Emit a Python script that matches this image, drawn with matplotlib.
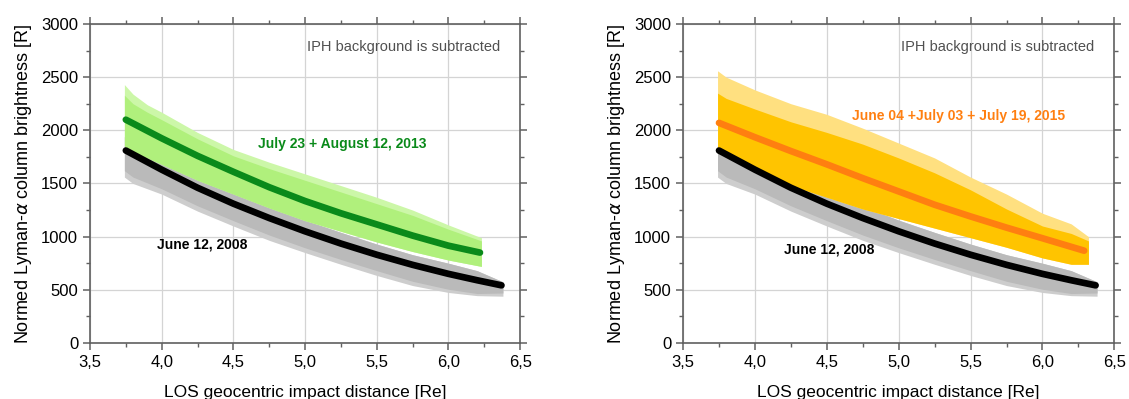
import matplotlib
matplotlib.use("Agg")
import matplotlib.pyplot as plt
from matplotlib.ticker import MultipleLocator, FuncFormatter

plt.rcParams['font.family'] = ['Liberation Sans', 'DejaVu Sans']

# fitted curves
fitX2008 = [3.75, 4.0, 4.25, 4.5, 4.75, 5.0, 5.25, 5.5, 5.75, 6.0, 6.2, 6.37]
fitY2008 = [1810, 1630, 1460, 1310, 1175, 1050, 935, 830, 735, 650, 590, 542]

fitX2013 = [3.75, 4.0, 4.25, 4.5, 4.75, 5.0, 5.25, 5.5, 5.75, 6.0, 6.22]
fitY2013 = [2100, 1925, 1760, 1610, 1465, 1335, 1220, 1115, 1010, 915, 850]

fitX2015 = [3.75, 4.0, 4.25, 4.5, 4.75, 5.0, 5.25, 5.5, 5.75, 6.0, 6.29]
fitY2015 = [2070, 1935, 1805, 1680, 1550, 1425, 1300, 1190, 1085, 985, 868]

# envelopes of the measurement clouds (dense core and sparse fringe)
cloudX2008 = [3.74, 3.8, 4.0, 4.25, 4.5, 4.75, 5.0, 5.25, 5.5, 5.75, 6.0, 6.2, 6.38]
cloudLow2008 = [1620, 1560, 1450, 1290, 1150, 1015, 895, 785, 680, 580, 505, 465, 470]
cloudHigh2008 = [1940, 1880, 1740, 1580, 1420, 1285, 1155, 1040, 930, 830, 750, 680, 575]
fringeLow2008 = [1560, 1500, 1400, 1240, 1100, 965, 850, 740, 635, 540, 475, 445, 440]

cloudX2013 = [3.74, 3.8, 3.9, 4.0, 4.25, 4.5, 4.75, 5.0, 5.25, 5.5, 5.75, 6.0, 6.23]
cloudLow2013 = [1850, 1800, 1740, 1680, 1530, 1400, 1270, 1150, 1050, 950, 860, 780, 720]
cloudHigh2013 = [2330, 2250, 2170, 2100, 1920, 1760, 1640, 1530, 1420, 1310, 1200, 1070, 960]
fringeHigh2013 = [2430, 2340, 2240, 2170, 1980, 1820, 1700, 1590, 1480, 1370, 1250, 1110, 990]

cloudX2015 = [3.74, 3.8, 4.0, 4.25, 4.5, 4.75, 5.0, 5.25, 5.5, 5.75, 6.0, 6.2, 6.32]
cloudLow2015 = [1790, 1750, 1620, 1480, 1370, 1260, 1170, 1080, 990, 900, 800, 740, 740]
cloudHigh2015 = [2350, 2300, 2200, 2080, 1980, 1870, 1740, 1600, 1440, 1260, 1100, 1030, 960]
fringeHigh2015 = [2560, 2500, 2380, 2250, 2150, 2020, 1880, 1740, 1560, 1400, 1220, 1120, 1000]


def commaFormat(v, pos):
    return "{:.1f}".format(v).replace(".", ",")


def styleAxes(ax):
    ax.set_xlim(3.5, 6.5)
    ax.set_ylim(0, 3000)
    ax.xaxis.set_major_locator(MultipleLocator(0.5))
    ax.xaxis.set_minor_locator(MultipleLocator(0.25))
    ax.yaxis.set_major_locator(MultipleLocator(500))
    ax.yaxis.set_minor_locator(MultipleLocator(250))
    ax.xaxis.set_major_formatter(FuncFormatter(commaFormat))
    ax.grid(True, which="major", color="#d4d4d4", lw=0.9, zorder=0)
    ax.set_axisbelow(True)
    for s in ax.spines.values():
        s.set_color("#606060")
        s.set_linewidth(1.2)
    ax.tick_params(which="both", direction="out", top=True, right=True,
                   colors="#606060", labelcolor="black", labelsize=12)
    ax.tick_params(which="major", length=5, width=1.1)
    ax.tick_params(which="minor", length=3, width=1.0)
    ax.tick_params(top=True, right=True, labeltop=False, labelright=False)
    ax.set_xlabel("LOS geocentric impact distance [Re]", fontsize=12.5, labelpad=11)
    ax.set_ylabel(r"Normed Lyman-$\alpha$ column brightness [R]", fontsize=13, labelpad=5)
    ax.text(6.36, 2780, "IPH background is subtracted", ha="right", va="center",
            fontsize=10.5, color="#505050")


def drawGray(ax):
    ax.fill_between(cloudX2008, fringeLow2008, cloudHigh2008, color="#cdcdcd", lw=0, zorder=2)
    ax.fill_between(cloudX2008, cloudLow2008, cloudHigh2008, color="#bababa", lw=0, zorder=2)


def drawPanels():
    fig = plt.figure(figsize=(11.29, 3.99), dpi=100)
    axL = fig.add_axes([0.0797, 0.1404, 0.381, 0.7995])
    axR = fig.add_axes([0.605, 0.1404, 0.382, 0.7995])

    # left: 2008 vs 2013
    drawGray(axL)
    axL.fill_between(cloudX2013, cloudLow2013, fringeHigh2013, color="#ccf7a8", lw=0, zorder=3)
    axL.fill_between(cloudX2013, cloudLow2013, cloudHigh2013, color="#b0f07c", lw=0, zorder=3)
    axL.plot(fitX2008, fitY2008, color="black", lw=4.8, solid_capstyle="round", zorder=5)
    axL.plot(fitX2013, fitY2013, color="#0a8a1a", lw=4.8, solid_capstyle="round", zorder=6)
    axL.text(4.675, 1875, "July 23 + August 12, 2013", color="#0a8a1a",
             fontsize=10, fontweight="bold", va="center")
    axL.text(3.97, 922, "June 12, 2008", color="black", fontsize=10,
             fontweight="bold", va="center")
    styleAxes(axL)

    # right: 2008 vs 2015
    drawGray(axR)
    axR.fill_between(cloudX2015, cloudLow2015, fringeHigh2015, color="#ffe080", lw=0, zorder=3)
    axR.fill_between(cloudX2015, cloudLow2015, cloudHigh2015, color="#ffc400", lw=0, zorder=3)
    axR.plot(fitX2008, fitY2008, color="black", lw=4.8, solid_capstyle="round", zorder=5)
    axR.plot(fitX2015, fitY2015, color="#ff7f10", lw=4.8, solid_capstyle="round", zorder=6)
    axR.text(4.677, 2137, "June 04 +July 03 + July 19, 2015", color="#ff7f10",
             fontsize=10, fontweight="bold", va="center")
    axR.text(4.20, 881, "June 12, 2008", color="black", fontsize=10,
             fontweight="bold", va="center")
    styleAxes(axR)

    fig.savefig("out.png", dpi=100)


if __name__ == '__main__':
    drawPanels()
